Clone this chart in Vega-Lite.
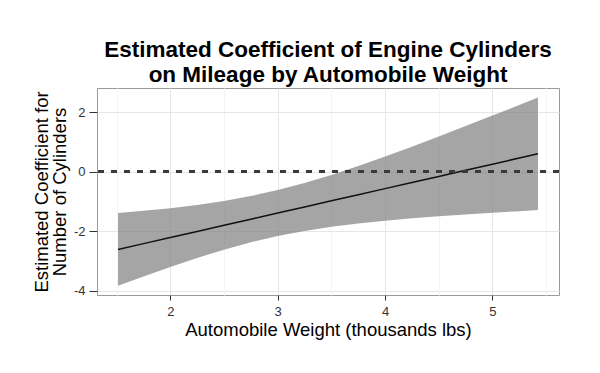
{
  "$schema": "https://vega.github.io/schema/vega-lite/v6.json",
  "autosize": "none",
  "width": 462,
  "height": 207,
  "padding": {"left": 97, "top": 88, "right": 41, "bottom": 78},
  "background": "white",
  "title": {
    "text": ["Estimated Coefficient of Engine Cylinders", "on Mileage by Automobile Weight"],
    "font": "Liberation Sans",
    "fontSize": 22.5,
    "fontWeight": "bold",
    "color": "black",
    "lineHeight": 25,
    "anchor": "middle",
    "frame": "group",
    "offset": 2
  },
  "data": {
    "values": [
      {"wt": 1.513, "est": -2.610, "lo": -3.832, "hi": -1.388},
      {"wt": 1.75, "est": -2.415, "lo": -3.516, "hi": -1.314},
      {"wt": 2.0, "est": -2.210, "lo": -3.196, "hi": -1.224},
      {"wt": 2.25, "est": -2.005, "lo": -2.894, "hi": -1.116},
      {"wt": 2.5, "est": -1.800, "lo": -2.617, "hi": -0.983},
      {"wt": 2.75, "est": -1.594, "lo": -2.371, "hi": -0.817},
      {"wt": 3.0, "est": -1.389, "lo": -2.162, "hi": -0.616},
      {"wt": 3.25, "est": -1.184, "lo": -1.990, "hi": -0.378},
      {"wt": 3.5, "est": -0.979, "lo": -1.851, "hi": -0.107},
      {"wt": 3.75, "est": -0.773, "lo": -1.738, "hi": 0.192},
      {"wt": 4.0, "est": -0.568, "lo": -1.645, "hi": 0.509},
      {"wt": 4.25, "est": -0.363, "lo": -1.566, "hi": 0.840},
      {"wt": 4.5, "est": -0.158, "lo": -1.496, "hi": 1.180},
      {"wt": 4.75, "est": 0.048, "lo": -1.434, "hi": 1.530},
      {"wt": 5.0, "est": 0.253, "lo": -1.377, "hi": 1.883},
      {"wt": 5.25, "est": 0.458, "lo": -1.325, "hi": 2.241},
      {"wt": 5.424, "est": 0.601, "lo": -1.289, "hi": 2.491}
    ]
  },
  "layer": [
    {
      "mark": {"type": "area", "color": "#7f7f7f", "opacity": 0.7},
      "encoding": {
        "x": {
          "field": "wt",
          "type": "quantitative",
          "scale": {"domain": [1.317, 5.62], "nice": false, "zero": false},
          "axis": {
            "title": "Automobile Weight (thousands lbs)",
            "values": [1.5, 2, 2.5, 3, 3.5, 4, 4.5, 5, 5.5],
            "labelExpr": "datum.value % 1 === 0 ? '' + datum.value : ''",
            "gridColor": {"condition": {"test": "datum.value % 1 !== 0", "value": "#f4f4f4"}, "value": "#e6e6e6"},
            "tickOpacity": {"condition": {"test": "datum.value % 1 !== 0", "value": 0}, "value": 1},
            "tickSize": 5,
            "labelPadding": 5,
            "titlePadding": 2
          }
        },
        "y": {
          "field": "lo",
          "type": "quantitative",
          "scale": {"domain": [-4.14, 2.81], "nice": false, "zero": false},
          "axis": {
            "title": ["Estimated Coefficient for", "Number of Cylinders"],
            "values": [-4, -3, -2, -1, 0, 1, 2],
            "labelExpr": "datum.value % 2 === 0 ? '' + datum.value : ''",
            "gridColor": {"condition": {"test": "datum.value % 2 !== 0", "value": "#f4f4f4"}, "value": "#e6e6e6"},
            "tickOpacity": {"condition": {"test": "datum.value % 2 !== 0", "value": 0}, "value": 1},
            "tickSize": 8,
            "labelPadding": 4,
            "titlePadding": 4,
            "titleLineHeight": 18
          }
        },
        "y2": {"field": "hi"}
      }
    },
    {
      "mark": {"type": "line", "color": "#111111", "strokeWidth": 1.5},
      "encoding": {
        "x": {"field": "wt", "type": "quantitative"},
        "y": {"field": "est", "type": "quantitative"}
      }
    },
    {
      "mark": {"type": "rule", "color": "#3a3a3a", "strokeWidth": 1.8, "strokeDash": [6, 7]},
      "encoding": {
        "y": {"datum": 0, "type": "quantitative"}
      }
    }
  ],
  "config": {
    "font": "Liberation Sans",
    "view": {"stroke": "#9a9a9a", "strokeWidth": 1},
    "axis": {
      "domain": false,
      "labelFont": "Liberation Sans",
      "labelFontSize": 13,
      "labelColor": "#333333",
      "tickColor": "#333333",
      "tickWidth": 1,
      "titleFont": "Liberation Sans",
      "titleFontSize": 18.5,
      "titleFontWeight": "normal",
      "titleColor": "black",
      "gridWidth": 1
    }
  }
}
